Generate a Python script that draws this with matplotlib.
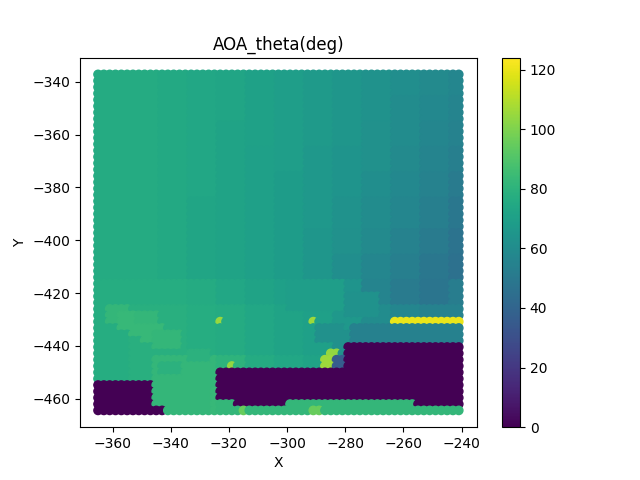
import numpy as np
import matplotlib
matplotlib.use("Agg")
import matplotlib.pyplot as plt

x_grid = np.arange(-365.0, -240.0, 2.0)
y_grid = -337.2 - 2.4 * np.arange(54)

# coarse background field of AOA_theta (deg)
table_x = [-360, -350, -340, -330, -320, -310, -300, -290, -280, -270, -260, -250, -240]
table_y = [-340, -350, -360, -370, -380, -390, -400, -410, -420, -430, -440, -450, -460]
table_vals = [
    [76, 76, 75, 74, 73, 71, 69, 67, 65, 63, 61, 59, 57],
    [76, 76, 75, 74, 73, 71, 69, 67, 65, 63, 60, 58, 56],
    [76, 76, 75, 74, 72, 71, 69, 67, 65, 62, 60, 57, 55],
    [76, 76, 75, 74, 72, 70, 69, 66, 64, 62, 59, 56, 53],
    [76, 76, 75, 74, 72, 70, 68, 66, 64, 61, 58, 55, 51],
    [76, 76, 75, 73, 72, 70, 68, 66, 63, 60, 57, 53, 49],
    [76, 76, 75, 73, 72, 70, 68, 65, 62, 59, 55, 51, 47],
    [76, 76, 75, 73, 72, 70, 68, 65, 61, 57, 53, 49, 46],
    [77, 77, 77, 76, 74, 72, 70, 68, 64, 56, 51, 48, 52],
    [77, 78, 78, 77, 76, 74, 72, 70, 66, 60, 57, 55, 55],
    [77, 78, 78, 77, 76, 74, 72, 70, 62, 58, 56, 56, 56],
    [77, 78, 80, 82, 80, 76, 74, 72, 70, 60, 60, 60, 60],
    [80, 80, 82, 83, 82, 82, 82, 82, 82, 82, 82, 82, 82],
]

# local regions: (x_min, x_max, y_top, y_bottom, value)
regions = [
    (-362, -355, -425, -431, 82),
    (-358, -351, -427, -434, 83),
    (-354, -347, -430, -437, 83),
    (-350, -343, -432, -439, 83),
    (-346, -337, -434, -441, 82),
    (-352, -344, -428, -431, 82),
    (-345, -327, -444, -464.5, 82),
    (-343, -337, -447, -452, 79),
    (-333, -327, -442, -446, 79),
    (-300, -280, -416, -428, 69),
    (-279.5, -268, -420, -430, 63),
    (-278, -241, -432, -438, 54),
    (-290, -279.5, -432, -440, 62),
    (-287.5, -280.5, -443, -450, 36),
    (-286.5, -282.5, -441, -445, 104),
    (-287.5, -284.5, -445, -450, 106),
    (-324.5, -322.5, -430, -431.5, 105),
    (-291.5, -290.5, -430, -431.5, 106),
    (-319.5, -318.5, -446.5, -448.5, 104),
    (-291.5, -288.5, -463.5, -465, 95),
    (-315.5, -314.5, -463.5, -465, 95),
    (-263.5, -240, -430, -431.5, 120),
    (-365.5, -346.5, -454.5, -465, 0),
    (-346.5, -342.5, -463.5, -465, 0),
    (-323.5, -240, -449, -461, 0),
    (-317.5, -300.5, -461, -463, 0),
    (-255.5, -240, -461, -463, 0),
    (-279.5, -240, -439.5, -461, 0),
]

vals_tab = np.array(table_vals, dtype=float)
tx = np.array(table_x, dtype=float)
ty = np.array(table_y, dtype=float)

px, py, pv = [], [], []
for y in y_grid:
    for x in x_grid:
        ci = int(np.argmin(np.abs(tx - x)))
        ri = int(np.argmin(np.abs(ty - y)))
        v = vals_tab[ri, ci]
        for (x0, x1, yt, yb, rv) in regions:
            if x0 <= x <= x1 and yb <= y <= yt:
                v = rv
        px.append(x)
        py.append(y)
        pv.append(v)

fig, ax = plt.subplots(figsize=(6.4, 4.8), dpi=100)
sc = ax.scatter(px, py, c=pv, cmap="viridis", vmin=0, vmax=124)
fig.colorbar(sc, ax=ax)
ax.set_title("AOA_theta(deg)")
ax.set_xlabel("X")
ax.set_ylabel("Y")
fig.savefig("out.png", dpi=100)
